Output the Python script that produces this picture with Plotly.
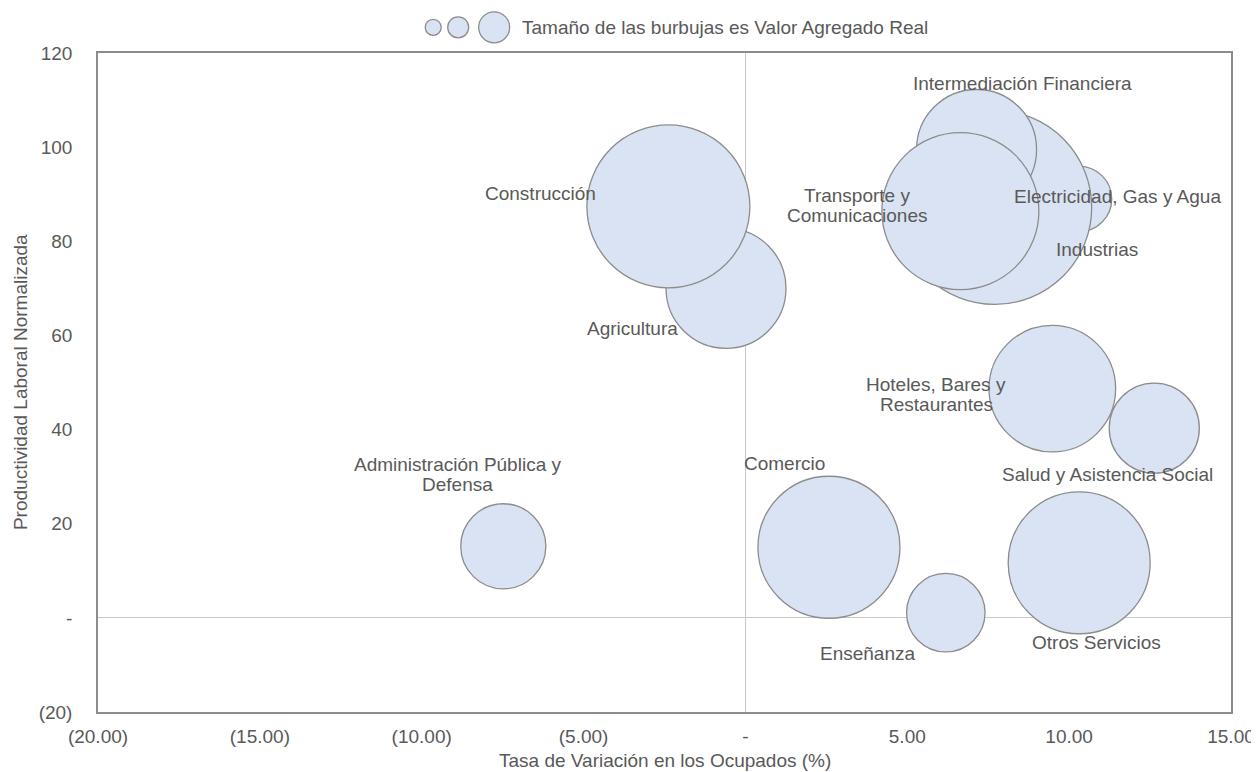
import plotly.graph_objects as go

# ---- data ----
sectores = [
    "Electricidad, Gas y Agua", "Industrias", "Intermediación Financiera",
    "Transporte y<br>Comunicaciones", "Agricultura", "Construcción",
    "Administración Pública y<br>Defensa", "Comercio", "Enseñanza",
    "Otros Servicios", "Hoteles, Bares y<br>Restaurantes", "Salud y Asistencia Social",
]
tasa_ocupados = [10.31, 7.70, 7.14, 6.64, -0.60, -2.38, -7.48, 2.58, 6.19, 10.31, 9.48, 12.63]
productividad = [89.0, 87.2, 99.5, 86.4, 70.0, 87.4, 15.2, 15.0, 1.1, 11.7, 48.7, 40.3]
valor_agregado = [10.6, 94.1, 36.0, 61.6, 36.0, 66.4, 18.1, 50.4, 15.4, 50.4, 40.1, 20.3]

x_ticks = [-20, -15, -10, -5, 0, 5, 10, 15]
x_ticktext = ["(20.00)", "(15.00)", "(10.00)", "(5.00)", "-", "5.00", "10.00", "15.00"]
y_ticks = [-20, 0, 20, 40, 60, 80, 100, 120]
y_ticktext = ["(20)", "-", "20", "40", "60", "80", "100", "120"]

# label offsets in pixels (style/position, kept apart from the data)
label_shift = {
    "Electricidad, Gas y Agua": (38, 2),
    "Industrias": (102, -42),
    "Intermediación Financiera": (46, 66),
    "Transporte y<br>Comunicaciones": (-103, 6),
    "Agricultura": (-94, -40),
    "Construcción": (-128, 13),
    "Administración Pública y<br>Defensa": (-46, 72),
    "Comercio": (-44, 84),
    "Enseñanza": (-78, -41),
    "Otros Servicios": (17, -80),
    "Hoteles, Bares y<br>Restaurantes": (-116, -6),
    "Salud y Asistencia Social": (-47, -46),
}

TXT = "#595959"
FONT = "Liberation Sans, Arial, sans-serif"
FS = 19
LINE_H = 20

OFF = 8  # page body margin of the html page
W, H = 1259 - OFF, 772 - OFF
L, R, T, B = 97.5 - OFF, 1231.5 - OFF, 52.7 - OFF, 711.7 - OFF
PW, PH = R - L, B - T

fig = go.Figure()
fig.add_trace(go.Scatter(
    x=tasa_ocupados, y=productividad, mode="markers",
    marker=dict(size=valor_agregado, sizemode="area", sizeref=0.005,
                color="#DAE3F3", opacity=1,
                line=dict(color="#8C8C8C", width=1.3)),
    text=sectores, hoverinfo="text", showlegend=False,
))

annotations = []
for s, xv, yv in zip(sectores, tasa_ocupados, productividad):
    dx, dy = label_shift[s]
    lines = s.split("<br>")
    n = len(lines)
    for i, line in enumerate(lines):
        annotations.append(dict(x=xv, y=yv, xref="x", yref="y", text=line, showarrow=False,
                                xshift=dx, yshift=dy + ((n - 1) / 2 - i) * LINE_H,
                                align="center",
                                font=dict(family=FONT, size=FS, color=TXT)))

# axis titles
annotations.append(dict(x=0.5, y=(B - (760 - OFF)) / PH, xref="paper", yref="paper",
                        yanchor="middle",
                        text="Tasa de Variación en los Ocupados (%)", showarrow=False,
                        font=dict(family=FONT, size=FS, color=TXT)))
annotations.append(dict(x=((20 - OFF) - L) / PW, y=0.5, xref="paper", yref="paper",
                        xanchor="center",
                        text="Productividad Laboral Normalizada", showarrow=False, textangle=-90,
                        font=dict(family=FONT, size=FS, color=TXT)))
# size legend text
annotations.append(dict(x=((520 - OFF) - L) / PW, y=(B - (27 - OFF)) / PH,
                        xref="paper", yref="paper", xanchor="left", yanchor="middle",
                        text="Tamaño de las burbujas es Valor Agregado Real", showarrow=False,
                        font=dict(family=FONT, size=FS, color=TXT)))

shapes = []
for cx, d in [(433, 16), (458, 21), (494, 31)]:
    shapes.append(dict(type="circle", xref="paper", yref="paper",
                       xsizemode="pixel", ysizemode="pixel",
                       xanchor=((cx - OFF) - L) / PW, yanchor=(B - (27 - OFF)) / PH,
                       x0=-d / 2, x1=d / 2, y0=-d / 2, y1=d / 2,
                       fillcolor="#DAE3F3", line=dict(color="#8C8C8C", width=1.3)))

fig.update_layout(
    width=W, height=H,
    margin=dict(l=L, r=W - R, t=T, b=H - B, autoexpand=False),
    paper_bgcolor="white", plot_bgcolor="white",
    font=dict(family=FONT, size=FS, color=TXT),
    annotations=annotations, shapes=shapes,
    xaxis=dict(range=[-20, 15], tickvals=x_ticks, ticktext=x_ticktext, automargin=False,
               showgrid=False, zeroline=True, zerolinecolor="#C8C8C8", zerolinewidth=1.3,
               showline=True, mirror=True, linecolor="#8C8C8C", linewidth=1.5,
               ticks="", ticklabelstandoff=6, tickfont=dict(family=FONT, size=FS, color=TXT)),
    yaxis=dict(range=[-20, 120], tickvals=y_ticks, ticktext=y_ticktext, automargin=False,
               showgrid=False, zeroline=True, zerolinecolor="#C8C8C8", zerolinewidth=1.3,
               showline=True, mirror=True, linecolor="#8C8C8C", linewidth=1.5,
               ticks="", ticklabelstandoff=20, tickfont=dict(family=FONT, size=FS, color=TXT)),
)

fig.write_html("out.html")
